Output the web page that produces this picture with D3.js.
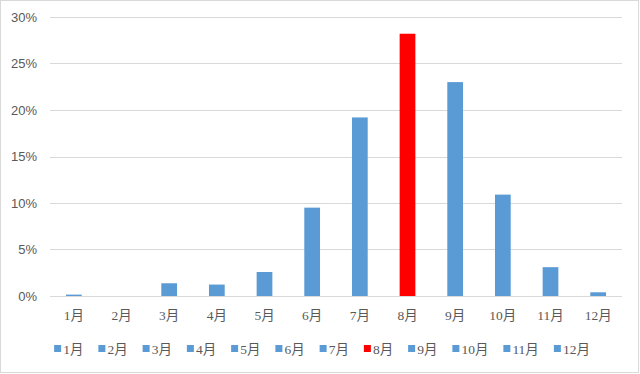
<!DOCTYPE html>
<html>
<head>
<meta charset="utf-8">
<script src="https://cdn.jsdelivr.net/npm/d3@7"></script>
<style>
  body { margin: 0; background: #fff; }
  .ylab { font-family: "Liberation Sans", Arial, sans-serif; font-size: 13px; fill: #595959; }
  .xlab, .leg { font-family: "Liberation Serif", "Noto Sans CJK JP", serif; font-size: 13.5px; fill: #595959; }
</style>
</head>
<body>
<div id="draw"></div>
<script>
const months = ['1月', '2月', '3月', '4月', '5月', '6月', '7月', '8月', '9月', '10月', '11月', '12月']
const shares = [0.0015, 0, 0.0137, 0.0123, 0.0258, 0.095, 0.192, 0.282, 0.230, 0.109, 0.031, 0.004]
const yTicks = [0, 0.05, 0.10, 0.15, 0.20, 0.25, 0.30]
const highlight = '8月'

const W = 640
const H = 374
const margin = { top: 17, right: 18, bottom: 78, left: 50 }
const width = W - margin.left - margin.right
const height = H - margin.top - margin.bottom

const blue = '#5b9bd5'
const red = '#ff0000'

const root = d3.select('#draw').append('svg')
  .attr('width', W)
  .attr('height', H)

// outer frame
root.append('rect')
  .attr('x', 0.5).attr('y', 0.5)
  .attr('width', W - 2).attr('height', H - 2)
  .attr('fill', '#fff')
  .attr('stroke', '#d9d9d9')

const svg = root.append('g')
  .attr('transform', 'translate(' + margin.left + ',' + margin.top + ')')

const x = d3.scaleBand().domain(months).range([0, width]).paddingInner(0.67).paddingOuter(0.335)
const y = d3.scaleLinear().domain([0, 0.30]).range([height, 0])

// grid
svg.selectAll('.grid')
  .data(yTicks)
  .enter().append('line')
  .attr('x1', 0).attr('x2', width)
  .attr('y1', d => Math.round(y(d)) + 0.5)
  .attr('y2', d => Math.round(y(d)) + 0.5)
  .attr('stroke', '#d9d9d9')
  .attr('stroke-width', 1)

svg.selectAll('.ylab')
  .data(yTicks)
  .enter().append('text')
  .attr('class', 'ylab')
  .attr('x', -13)
  .attr('y', d => y(d))
  .attr('dy', '0.35em')
  .attr('text-anchor', 'end')
  .text(d => d3.format('.0%')(d))

// bars
svg.selectAll('.bar')
  .data(months)
  .enter().append('rect')
  .attr('class', 'bar')
  .attr('x', d => x(d))
  .attr('width', x.bandwidth())
  .attr('y', (d, i) => y(shares[i]))
  .attr('height', (d, i) => y(0) - y(shares[i]))
  .attr('fill', d => d === highlight ? red : blue)

// x labels
svg.selectAll('.xlab')
  .data(months)
  .enter().append('text')
  .attr('class', 'xlab')
  .attr('x', d => x(d) + x.bandwidth() / 2)
  .attr('y', height + 24)
  .attr('text-anchor', 'middle')
  .text(d => d)

// legend
const legend = root.append('g').attr('transform', 'translate(0,' + 349 + ')')
let cx = 0
const items = []
months.forEach(function (m) {
  const g = legend.append('g')
  g.append('rect')
    .attr('x', 0).attr('y', -4)
    .attr('width', 7).attr('height', 7)
    .attr('fill', m === highlight ? red : blue)
  const t = g.append('text')
    .attr('class', 'leg')
    .attr('x', 9)
    .attr('dy', '0.35em')
    .text(m)
  const w = 9 + t.node().getComputedTextLength()
  items.push({ g: g, x: cx })
  cx += w + 15
})
const total = cx - 15
const start = 322 - total / 2
items.forEach(function (it) {
  it.g.attr('transform', 'translate(' + (start + it.x) + ',0)')
})
</script>
</body>
</html>
